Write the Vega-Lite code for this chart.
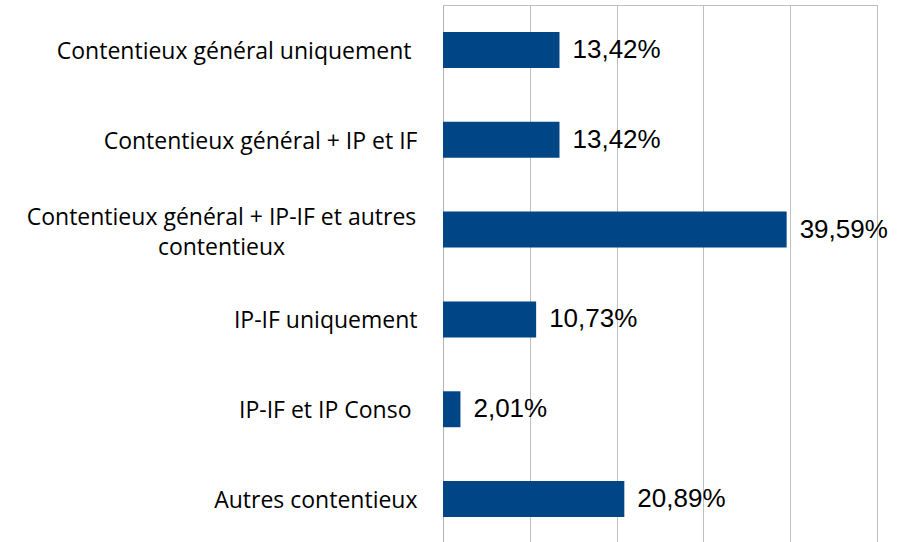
{
  "$schema": "https://vega.github.io/schema/vega-lite/v6.json",
  "width": 434,
  "height": 539,
  "autosize": {"type": "none"},
  "padding": {"left": 443, "top": 5, "right": 35, "bottom": 0},
  "background": "white",
  "config": {
    "view": {"stroke": "#bfbfbf", "strokeWidth": 1},
    "locale": {"number": {"decimal": ",", "thousands": ".", "grouping": [3], "currency": ["", " €"], "percent": "%"}}
  },
  "data": {
    "values": [
      {"category": "Contentieux général uniquement", "share": 0.1342},
      {"category": "Contentieux général + IP et IF", "share": 0.1342},
      {"category": "Contentieux général + IP-IF et autres contentieux", "share": 0.3959},
      {"category": "IP-IF uniquement", "share": 0.1073},
      {"category": "IP-IF et IP Conso", "share": 0.0201},
      {"category": "Autres contentieux", "share": 0.2089}
    ]
  },
  "encoding": {
    "y": {
      "field": "category",
      "type": "nominal",
      "sort": null,
      "scale": {"paddingInner": 0.6, "paddingOuter": 0.3},
      "axis": {
        "title": null,
        "ticks": false,
        "domainColor": "#b3b3b3",
        "domainWidth": 1,
        "labelFont": "Open Sans",
        "labelFontSize": 23,
        "labelColor": "#000000",
        "labelLimit": 500,
        "labelLineHeight": 30,
        "labelBaseline": "middle",
        "labelExpr": "datum.value == 'Contentieux général + IP-IF et autres contentieux' ? ['Contentieux général + IP-IF et autres', 'contentieux'] : datum.value",
        "labelAlign": {"condition": {"test": "datum.value == 'Contentieux général + IP-IF et autres contentieux'", "value": "center"}, "value": "right"},
        "labelOffset": {"condition": {"test": "datum.value == 'Contentieux général + IP-IF et autres contentieux'", "value": -12}, "value": 2},
        "labelPadding": {"condition": [
          {"test": "datum.value == 'Contentieux général + IP-IF et autres contentieux'", "value": 222},
          {"test": "datum.value == 'Contentieux général uniquement' || datum.value == 'IP-IF et IP Conso'", "value": 32}
        ], "value": 26}
      }
    },
    "x": {
      "field": "share",
      "type": "quantitative",
      "scale": {"domain": [0, 0.5], "nice": false},
      "axis": {
        "title": null,
        "labels": false,
        "ticks": false,
        "domain": false,
        "grid": true,
        "gridColor": "#bfbfbf",
        "gridWidth": 1,
        "values": [0.1, 0.2, 0.3, 0.4, 0.5]
      }
    }
  },
  "layer": [
    {"mark": {"type": "bar", "color": "#004586"}},
    {
      "mark": {"type": "text", "align": "left", "baseline": "middle", "dx": 13, "font": "Liberation Sans", "fontSize": 26, "color": "#000000"},
      "encoding": {"text": {"field": "share", "type": "quantitative", "format": ".2%"}}
    }
  ]
}
